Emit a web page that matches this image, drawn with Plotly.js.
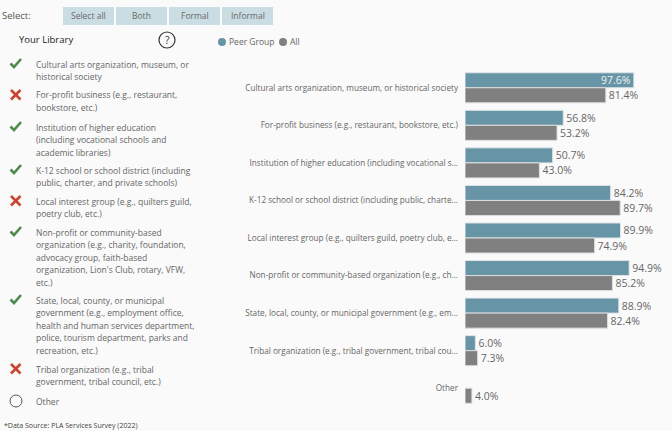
<!DOCTYPE html>
<html>
<head>
<meta charset="utf-8">
<script src="https://cdn.plot.ly/plotly-3.0.1.min.js"></script>
<style>html,body{margin:0;padding:0;background:#fafafa;}#chart{width:672px;height:431px;}</style>
</head>
<body>
<div id="chart"></div>
<script>
// ---- data ----
const categories = [
  "Cultural arts organization, museum, or historical society",
  "For-profit business (e.g., restaurant, bookstore, etc.)",
  "Institution of higher education (including vocational s...",
  "K-12 school or school district (including public, charte...",
  "Local interest group (e.g., quilters guild, poetry club, e...",
  "Non-profit or community-based organization (e.g., ch...",
  "State, local, county, or municipal government (e.g., em...",
  "Tribal organization (e.g., tribal government, tribal cou...",
  "Other"
];
const peerGroup = [97.6, 56.8, 50.7, 84.2, 89.9, 94.9, 88.9, 6.0, null];
const allLibs   = [81.4, 53.2, 43.0, 89.7, 74.9, 85.2, 82.4, 7.3, 4.0];
const seriesNames = ["Peer Group", "All"];
const buttonLabels = ["Select all", "Both", "Formal", "Informal"];
const libraryStatus = ["yes", "no", "yes", "yes", "no", "yes", "yes", "no", "none"];
const libraryLines = [
  ["Cultural arts organization, museum, or", "historical society"],
  ["For-profit business (e.g., restaurant,", "bookstore, etc.)"],
  ["Institution of higher education", "(including vocational schools and", "academic libraries)"],
  ["K-12 school or school district (including", "public, charter, and private schools)"],
  ["Local interest group (e.g., quilters guild,", "poetry club, etc.)"],
  ["Non-profit or community-based", "organization (e.g., charity, foundation,", "advocacy group, faith-based", "organization, Lion's Club, rotary, VFW,", "etc.)"],
  ["State, local, county, or municipal", "government (e.g., employment office,", "health and human services department,", "police, tourism department, parks and", "recreation, etc.)"],
  ["Tribal organization (e.g., tribal", "government, tribal council, etc.)"],
  ["Other"]
];
const itemTops = [64, 95, 127, 170, 201, 232, 300, 369, 401];

// ---- layout helpers ----
const W = 672, H = 431;
const M = {l: 465, r: 34, t: 69, b: 24};
const PW = W - M.l - M.r, PH = H - M.t - M.b;
const px = x => (x - M.l) / PW;
const py = y => (H - M.b - y) / PH;
const FONT = "Open Sans, Noto Sans, sans-serif";
const TEAL = "#6895a6", GREY = "#808080";

const fmt = v => v == null ? "" : v.toFixed(1) + "%";
const peerPos = peerGroup.map(v => (v != null && v > 95) ? "inside" : "outside");

const traces = [
  {
    type: "bar", orientation: "h", name: seriesNames[0],
    y: categories, x: peerGroup,
    marker: {color: TEAL, line: {color: "#dfe6e9", width: 1}},
    text: peerGroup.map(fmt), textposition: peerPos,
    insidetextanchor: "end", constraintext: "none",
    insidetextfont: {family: FONT, size: 10.5, color: "#f2f2f2"},
    outsidetextfont: {family: FONT, size: 10.5, color: "#666"},
    cliponaxis: false, hoverinfo: "none"
  },
  {
    type: "bar", orientation: "h", name: seriesNames[1],
    y: categories, x: allLibs,
    marker: {color: GREY, line: {color: "#dedede", width: 1}},
    text: allLibs.map(fmt), textposition: "outside", constraintext: "none",
    outsidetextfont: {family: FONT, size: 10.5, color: "#666"},
    cliponaxis: false, hoverinfo: "none"
  }
];

const annotations = [];
const shapes = [];
function ann(x, y, text, size, color, opts) {
  annotations.push(Object.assign({
    xref: "paper", yref: "paper", x: px(x), y: py(y), text: text,
    showarrow: false, xanchor: "left", yanchor: "middle",
    font: {family: FONT, size: size, color: color}
  }, opts || {}));
}
function pathShape(pts, color, width) {
  const d = pts.map((p, k) => (p[0] === "M" ? "M" : (k === 0 ? "M" : "L")) + px(p[1]) + "," + py(p[2])).join(" ");
  shapes.push({type: "path", xref: "paper", yref: "paper", path: d, line: {color: color, width: width}});
}

// top controls
ann(0, 16, "Select:", 9.5, "#555");
buttonLabels.forEach((b, i) => {
  const x0 = 63 + i * 53, x1 = x0 + 51;
  shapes.push({type: "rect", xref: "paper", yref: "paper", x0: px(x0), x1: px(x1), y0: py(7), y1: py(25),
    fillcolor: "#c9dde3", line: {width: 0}, layer: "below"});
  ann((x0 + x1) / 2, 16, b, 8.5, "#6a6a6a", {xanchor: "center"});
});
ann(17, 39, "Your Library", 9.5, "#222");
shapes.push({type: "circle", xref: "paper", yref: "paper", x0: px(159), x1: px(175), y0: py(32), y1: py(48),
  line: {color: "#333", width: 1.2}, fillcolor: "rgba(0,0,0,0)"});
ann(167, 40, "?", 10.5, "#333", {xanchor: "center"});
// legend
[[222, TEAL, seriesNames[0], 227], [283, GREY, seriesNames[1], 288]].forEach(l => {
  shapes.push({type: "circle", xref: "paper", yref: "paper", x0: px(l[0] - 4), x1: px(l[0] + 4), y0: py(38), y1: py(46),
    fillcolor: l[1], line: {width: 0}});
  ann(l[3], 42, l[2], 8.5, "#666");
});

// library list
libraryLines.forEach((lines, i) => {
  const top = itemTops[i];
  const st = libraryStatus[i];
  if (st === "yes") {
    pathShape([["M", 10.5, top - 0.5], ["L", 14, top + 3], ["L", 21, top - 5]], "#4e8a4e", 2.6);
  } else if (st === "no") {
    pathShape([["M", 11, top - 5], ["L", 20.5, top + 4.5]], "#c8452f", 2.6);
    pathShape([["M", 20.5, top - 5], ["L", 11, top + 4.5]], "#c8452f", 2.6);
  } else {
    shapes.push({type: "circle", xref: "paper", yref: "paper", x0: px(10), x1: px(22), y0: py(top - 6), y1: py(top + 6),
      line: {color: "#555", width: 1}, fillcolor: "rgba(0,0,0,0)"});
  }
  lines.forEach((t, j) => ann(34, top + j * 12.5, t, 8.5, "#666"));
});
ann(2, 425, "*Data Source: PLA Services Survey (2022)", 7, "#444");

const layout = {
  width: W, height: H,
  margin: M,
  paper_bgcolor: "#fafafa", plot_bgcolor: "#fafafa",
  barmode: "group", bargap: 0.2, bargroupgap: 0,
  showlegend: false,
  xaxis: {range: [0, 100], visible: false, fixedrange: true},
  yaxis: {autorange: "reversed", showgrid: false, zeroline: false, showline: false, ticks: "",
    ticklabelstandoff: 6,
    tickfont: {family: FONT, size: 8.2, color: "#666"}, fixedrange: true},
  annotations: annotations, shapes: shapes
};
Plotly.newPlot("chart", traces, layout, {displayModeBar: false, staticPlot: true});
</script>
</body>
</html>
